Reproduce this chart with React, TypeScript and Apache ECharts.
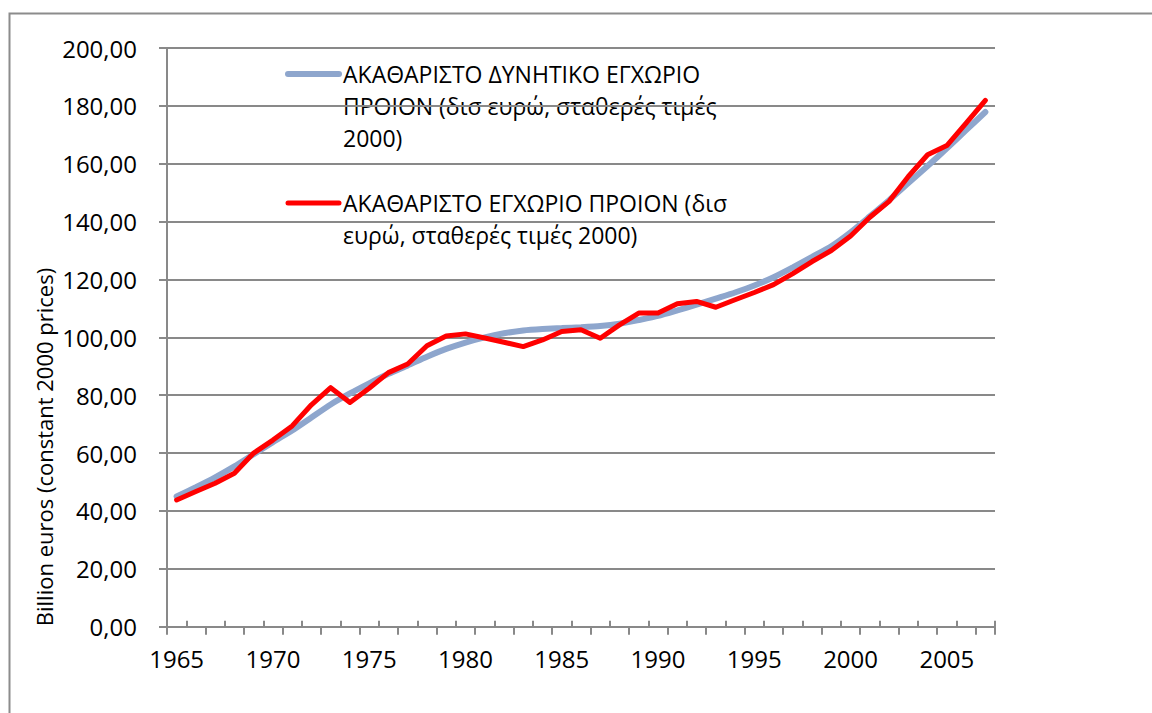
import React, { useEffect, useRef } from "react";
import * as echarts from "echarts";

const years = [
  "1965", "1966", "1967", "1968", "1969", "1970", "1971", "1972", "1973", "1974",
  "1975", "1976", "1977", "1978", "1979", "1980", "1981", "1982", "1983", "1984",
  "1985", "1986", "1987", "1988", "1989", "1990", "1991", "1992", "1993", "1994",
  "1995", "1996", "1997", "1998", "1999", "2000", "2001", "2002", "2003", "2004",
  "2005", "2006", "2007",
];

// ΑΚΑΘΑΡΙΣΤΟ ΔΥΝΗΤΙΚΟ ΕΓΧΩΡΙΟ ΠΡΟΙΟΝ (potential GDP)
const potentialGdp = [
  45.0, 48.2, 51.6, 55.4, 59.6, 63.8, 67.8, 72.3, 76.8, 80.6,
  84.1, 87.4, 90.3, 93.3, 96.0, 98.2, 100.0, 101.4, 102.4, 102.9,
  103.2, 103.5, 103.9, 104.7, 106.0, 107.4, 109.3, 111.3, 113.4, 115.5,
  117.9, 120.8, 124.2, 127.8, 131.5, 136.3, 141.8, 147.4, 153.3, 159.2,
  165.3, 171.6, 177.9,
];

// ΑΚΑΘΑΡΙΣΤΟ ΕΓΧΩΡΙΟ ΠΡΟΙΟΝ (actual GDP)
const actualGdp = [
  43.8, 46.7, 49.6, 53.0, 60.0, 64.5, 69.4, 76.7, 82.6, 77.5,
  82.4, 87.8, 90.8, 97.1, 100.5, 101.2, 99.8, 98.3, 96.8, 99.1,
  102.0, 102.6, 99.7, 104.3, 108.4, 108.4, 111.6, 112.4, 110.4, 113.0,
  115.5, 118.2, 122.0, 126.2, 130.0, 135.0, 141.5, 147.0, 155.6, 163.1,
  166.3, 174.0, 181.9,
];

const seriesNames = [
  "ΑΚΑΘΑΡΙΣΤΟ ΔΥΝΗΤΙΚΟ ΕΓΧΩΡΙΟ ΠΡΟΙΟΝ (δισ ευρώ, σταθερές τιμές 2000)",
  "ΑΚΑΘΑΡΙΣΤΟ ΕΓΧΩΡΙΟ ΠΡΟΙΟΝ (δισ ευρώ, σταθερές τιμές 2000)",
];
const legendLines1 = ["ΑΚΑΘΑΡΙΣΤΟ ΔΥΝΗΤΙΚΟ ΕΓΧΩΡΙΟ", "ΠΡΟΙΟΝ (δισ ευρώ, σταθερές τιμές", "2000)"];
const legendLines2 = ["ΑΚΑΘΑΡΙΣΤΟ ΕΓΧΩΡΙΟ ΠΡΟΙΟΝ (δισ", "ευρώ, σταθερές τιμές 2000)"];
const yAxisTitle = "Billion euros (constant 2000 prices)";

const FONT = "'Open Sans', 'Noto Sans', sans-serif";
const BLUE = "#8EA6CD";
const RED = "#FF0000";
const AXIS = "#898989";

export default function App() {
  const ref = useRef<HTMLDivElement>(null);

  useEffect(() => {
    document.body.style.margin = "0";
    const chart = echarts.init(ref.current!, null, { renderer: "svg" });

    const legendText = (lines: string[], y0: number) =>
      lines.map((t, i) => ({
        type: "text",
        x: 343,
        y: y0 + i * 32,
        style: {
          text: t,
          font: `23px ${FONT}`,
          fill: "#000",
          textVerticalAlign: "middle",
        },
      }));

    chart.setOption({
      animation: false,
      backgroundColor: "#fff",
      grid: { left: 167, right: 157, top: 48, bottom: 86.3, containLabel: false },
      xAxis: [
        {
          type: "category",
          data: years,
          position: "bottom",
          boundaryGap: true,
          axisLine: { show: true, lineStyle: { color: AXIS, width: 2 } },
          axisTick: {
            show: true,
            inside: false,
            length: 8,
            interval: (i: number) => i % 2 === 0,
            lineStyle: { color: AXIS, width: 2 },
          },
          axisLabel: {
            interval: 4,
            margin: 20,
            fontSize: 24,
            fontFamily: FONT,
            color: "#000",
          },
          splitLine: { show: false },
        },
        {
          type: "category",
          data: years,
          position: "bottom",
          boundaryGap: true,
          axisLine: { show: false },
          axisTick: {
            show: true,
            inside: true,
            length: 6,
            interval: (i: number) => i % 2 === 1,
            lineStyle: { color: AXIS, width: 2 },
          },
          axisLabel: { show: false },
          splitLine: { show: false },
        },
      ],
      yAxis: {
        type: "value",
        min: 0,
        max: 200,
        interval: 20,
        axisLine: { show: true, lineStyle: { color: AXIS, width: 2 } },
        axisTick: { show: true, length: 8, lineStyle: { color: AXIS, width: 2 } },
        axisLabel: {
          margin: 30,
          fontSize: 24,
          fontFamily: FONT,
          color: "#000",
          formatter: (v: number) => v.toFixed(2).replace(".", ","),
        },
        splitLine: { show: true, lineStyle: { color: AXIS, width: 2 } },
      },
      series: [
        {
          name: seriesNames[0],
          type: "line",
          data: potentialGdp,
          symbol: "none",
          smooth: 0.2,
          lineStyle: { color: BLUE, width: 6, cap: "round" },
          z: 2,
        },
        {
          name: seriesNames[1],
          type: "line",
          data: actualGdp,
          symbol: "none",
          lineStyle: { color: RED, width: 5, cap: "round", join: "round" },
          z: 3,
        },
      ],
      graphic: [
        {
          type: "rect",
          shape: { x: 9.5, y: 13.5, width: 1300, height: 900 },
          style: { fill: "none", stroke: "#8c8c8c", lineWidth: 2 },
          silent: true,
          z: -10,
        },
        {
          type: "text",
          x: 44,
          y: 447,
          rotation: Math.PI / 2,
          style: {
            text: yAxisTitle,
            font: `22px ${FONT}`,
            fill: "#000",
            textAlign: "center",
            textVerticalAlign: "middle",
          },
        },
        {
          type: "line",
          shape: { x1: 288, y1: 74, x2: 339, y2: 74 },
          style: { stroke: BLUE, lineWidth: 6, lineCap: "round" },
          z: 20,
        },
        {
          type: "line",
          shape: { x1: 288, y1: 203, x2: 339, y2: 203 },
          style: { stroke: RED, lineWidth: 5, lineCap: "round" },
          z: 20,
        },
        ...legendText(legendLines1, 74),
        ...legendText(legendLines2, 203),
      ],
    });

    return () => chart.dispose();
  }, []);

  return (
    <div
      ref={ref}
      style={{ position: "absolute", left: 0, top: 0, width: 1152, height: 713 }}
    />
  );
}
